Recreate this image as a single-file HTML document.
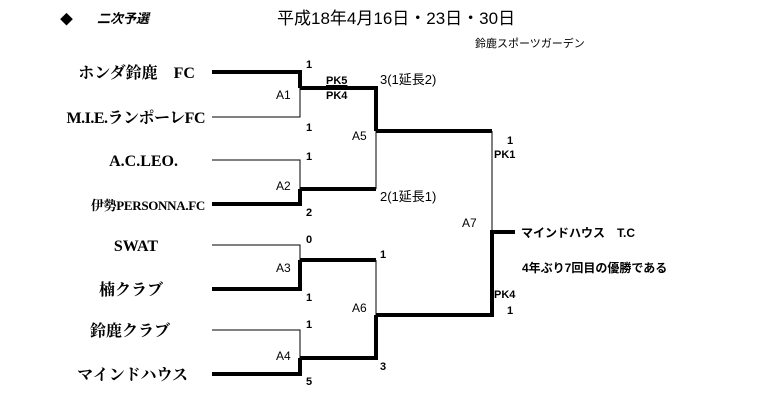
<!DOCTYPE html>
<html><head><meta charset="utf-8"><style>
body{margin:0;background:#fff;}
svg text{font-family:"Liberation Sans","Noto Sans CJK JP",sans-serif;}
svg .t text{font-family:"Liberation Serif","Noto Serif CJK JP",serif;font-size:16px;font-weight:bold;}
.s{font-size:11px;font-weight:bold;}
.a{font-size:12px;}
</style></head><body>
<svg width="763" height="408" xmlns="http://www.w3.org/2000/svg">
<text x="60" y="24" font-size="13">◆</text>
<text x="97" y="23" font-size="13" font-weight="bold" font-style="italic">二次予選</text>
<text x="277" y="24" font-size="17">平成18年4月16日・23日・30日</text>
<text x="475" y="47" font-size="11">鈴鹿スポーツガーデン</text>
<g class="t" text-anchor="end">
<text x="195" y="78">ホンダ鈴鹿　FC</text>
<text x="205" y="123" letter-spacing="-0.5">M.I.E.ランポーレFC</text>
<text x="178" y="166">A.C.LEO.</text>
<text x="205" y="210" style="font-size:13px" letter-spacing="-0.3">伊勢PERSONNA.FC</text>
<text x="158" y="251">SWAT</text>
<text x="163" y="295">楠クラブ</text>
<text x="170" y="336">鈴鹿クラブ</text>
<text x="188" y="380">マインドハウス</text>
</g>
<g stroke="#000" fill="none" shape-rendering="crispEdges">
<path d="M212 72H300V88M212 204H300V189M212 289H300V260M212 374H300V358" stroke-width="4"/>
<path d="M212 117H300V88M212 160H300V189M212 245H300V260M212 330H300V358" stroke-width="1"/>
<path d="M300 88H376V131M300 189H376M300 260H376M300 358H376V315" stroke-width="4"/>
<path d="M376 131V189M376 260V315" stroke-width="1"/>
<path d="M376 131H492M376 315H492V232H515" stroke-width="4"/>
<path d="M492 131V232" stroke-width="1"/>
</g>
<g class="s">
<text x="306" y="68">1</text><text x="306" y="131">1</text>
<text x="306" y="160">1</text><text x="306" y="216">2</text>
<text x="306" y="243">0</text><text x="306" y="301">1</text>
<text x="306" y="328">1</text><text x="306" y="385">5</text>
<text x="326" y="84" text-decoration="underline">PK5</text><text x="326" y="99">PK4</text>
<text x="380" y="258">1</text><text x="380" y="370">3</text>
<text x="507" y="144">1</text><text x="494" y="158">PK1</text>
<text x="494" y="298">PK4</text><text x="507" y="314">1</text>
<text x="522" y="272" font-size="12">4年ぶり7回目の優勝である</text>
<text x="521" y="237" font-size="12">マインドハウス　T.C</text>
</g>
<text x="380" y="84" font-size="13">3(1延長2)</text>
<text x="380" y="201" font-size="13">2(1延長1)</text>
<g class="a">
<text x="276" y="99">A1</text><text x="276" y="190">A2</text>
<text x="276" y="272">A3</text><text x="276" y="360">A4</text>
<text x="352" y="140">A5</text><text x="352" y="312">A6</text>
<text x="462" y="227">A7</text>
</g>
</svg>
</body></html>
